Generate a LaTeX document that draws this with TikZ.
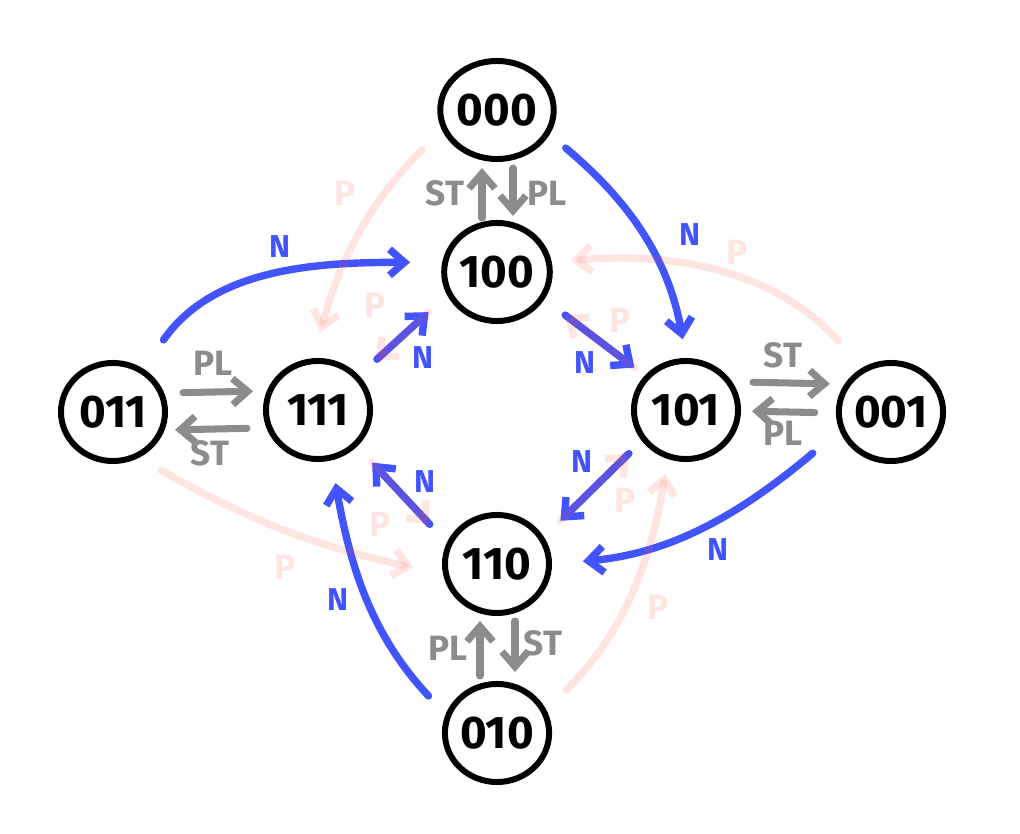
\documentclass[tikz,border=0pt]{standalone}
\usepackage{fontspec}
\setmainfont{Fira Sans}
\usepackage{tikz}
\usetikzlibrary{arrows.meta,shapes.geometric}
\definecolor{nblue}{RGB}{66,84,255}
\definecolor{stgrey}{RGB}{140,140,140}
\definecolor{pred}{RGB}{255,80,60}
\definecolor{plight}{RGB}{255,229,226}

\begin{document}
\begin{tikzpicture}[x=0.01cm,y=-0.01cm,
  state/.style={draw,ellipse,line width=1.7pt,minimum width=1.04cm,minimum height=0.98cm,inner sep=0pt,font=\bfseries\fontsize{13}{13}\selectfont},
  hooktip/.style={-{Straight Barb[length=1.5mm,width=2.6mm]}},
  stpl/.style={hooktip,stgrey,line width=2pt,line cap=round},
  nmove/.style={hooktip,nblue,line width=2.1pt,line cap=round},
  pmove/.style={hooktip,pred,draw opacity=0.15,line width=2.1pt,line cap=round},
  stpllabel/.style={stgrey,font=\bfseries\fontsize{10}{10}\selectfont},
  nlabel/.style={nblue,font=\bfseries\fontsize{9}{9}\selectfont},
  plabel/.style={plight,font=\bfseries\fontsize{10}{10}\selectfont}]
\useasboundingbox (0,0) rectangle (1020,834);

\node[state] (n000) at (497,110) {000};
\node[state] (n100) at (497,272) {100};
\node[state] (n011) at (113,412) {011};
\node[state] (n111) at (318,410) {111};
\node[state] (n101) at (686,410) {101};
\node[state] (n001) at (891,412) {001};
\node[state] (n110) at (497,564) {110};
\node[state] (n010) at (497,733) {010};

\draw[stpl,shorten <=0.2mm,shorten >=0.6mm] ([xshift=-1.5mm]n100.north) -- ([xshift=-1.5mm]n000.south);
\draw[stpl,shorten <=0.6mm,shorten >=0.4mm] ([xshift=1.6mm]n000.south) -- ([xshift=1.6mm]n100.north);
\node[stpllabel] (stA) at (445,193) {ST};
\node[stpllabel] (plA) at (547,193) {PL};

\draw[stpl,shorten <=1.5mm,shorten >=1mm] ([yshift=1.9mm]n011.east) -- ([yshift=1.9mm]n111.west);
\draw[stpl,shorten <=1.6mm,shorten >=0.7mm] ([yshift=-1.8mm]n111.west) -- ([yshift=-1.8mm]n011.east);
\node[stpllabel] (plB) at (213,363) {PL};
\node[stpllabel] (stB) at (210,453) {ST};

\draw[stpl,shorten <=1.2mm,shorten >=0.6mm] ([yshift=2.8mm]n101.east) -- ([yshift=2.8mm]n001.west);
\draw[stpl,shorten <=2.1mm,shorten >=1.1mm] ([yshift=-0.1mm]n001.west) -- ([yshift=-0.1mm]n101.east);
\node[stpllabel] (stC) at (783,355) {ST};
\node[stpllabel] (plC) at (783,433) {PL};

\draw[stpl,shorten <=0.5mm,shorten >=0.5mm] ([xshift=-1.7mm]n010.north) -- ([xshift=-1.7mm]n110.south);
\draw[stpl,shorten <=0.5mm,shorten >=0.9mm] ([xshift=1.8mm]n110.south) -- ([xshift=1.8mm]n010.north);
\node[stpllabel] (plD) at (448,648) {PL};
\node[stpllabel] (stD) at (543,643) {ST};

\draw[nmove,shorten <=3.5mm,shorten >=3.2mm] (n011.55) to[out=55,in=180] (n100.170);
\draw[nmove,shorten <=2.4mm,shorten >=2.5mm] (n111.40) -- (n100.205);
\draw[nmove,shorten <=2.1mm,shorten >=1.9mm] (n000.-25) to[out=-40,in=100] (n101.north);
\draw[nmove,shorten <=2.6mm,shorten >=1.3mm] (n100.-30) -- (n101.140);
\draw[nmove,shorten <=1.8mm,shorten >=2.3mm] (n101.215) -- (n110.30);
\draw[nmove,shorten <=2.5mm,shorten >=2.2mm] (n110.157) -- (n111.-43);
\draw[nmove,shorten <=3.5mm,shorten >=3.1mm] (n001.200) to[out=-140,in=5] (n110.east);
\draw[nmove,shorten <=2.5mm,shorten >=2.3mm] (n010.160) to[out=133,in=-80] (n111.-75);
\node[nlabel] (nA) at (280,247) {N};
\node[nlabel] (nB) at (423,358) {N};
\node[nlabel] (nC) at (690,235) {N};
\node[nlabel] (nD) at (585,363) {N};
\node[nlabel] (nE) at (582,462) {N};
\node[nlabel] (nF) at (425,482) {N};
\node[nlabel] (nG) at (718,550) {N};
\node[nlabel] (nH) at (338,600) {N};

\draw[pmove,shorten <=2.8mm,shorten >=2.7mm] (n000.200) to[out=225,in=75] (n111.95);
\draw[pmove,shorten <=2.5mm,shorten >=2.2mm] (n100.205) -- (n111.40);
\draw[pmove,shorten <=3.6mm,shorten >=1.9mm] (n001.123) to[out=132,in=5] (n100.10);
\draw[pmove,shorten <=1.3mm,shorten >=2.6mm] (n101.140) -- (n100.-30);
\draw[pmove,shorten <=2.2mm,shorten >=2.5mm] (n111.-43) -- (n110.157);
\draw[pmove,shorten <=2.5mm,shorten >=3mm] (n011.-60) to[out=-30,in=168] (n110.190);
\draw[pmove,shorten <=2.8mm,shorten >=1.5mm] (n010.25) to[out=45,in=-100] (n101.-110);
\draw[pmove,shorten <=2.3mm,shorten >=1.8mm] (n110.30) -- (n101.215);
\node[plabel] (pA) at (345,193) {P};
\node[plabel] (pB) at (375,305) {P};
\node[plabel] (pC) at (737,252) {P};
\node[plabel] (pD) at (620,320) {P};
\node[plabel] (pE) at (380,524) {P};
\node[plabel] (pF) at (285,567) {P};
\node[plabel] (pG) at (625,500) {P};
\node[plabel] (pH) at (658,607) {P};
\end{tikzpicture}
\end{document}
